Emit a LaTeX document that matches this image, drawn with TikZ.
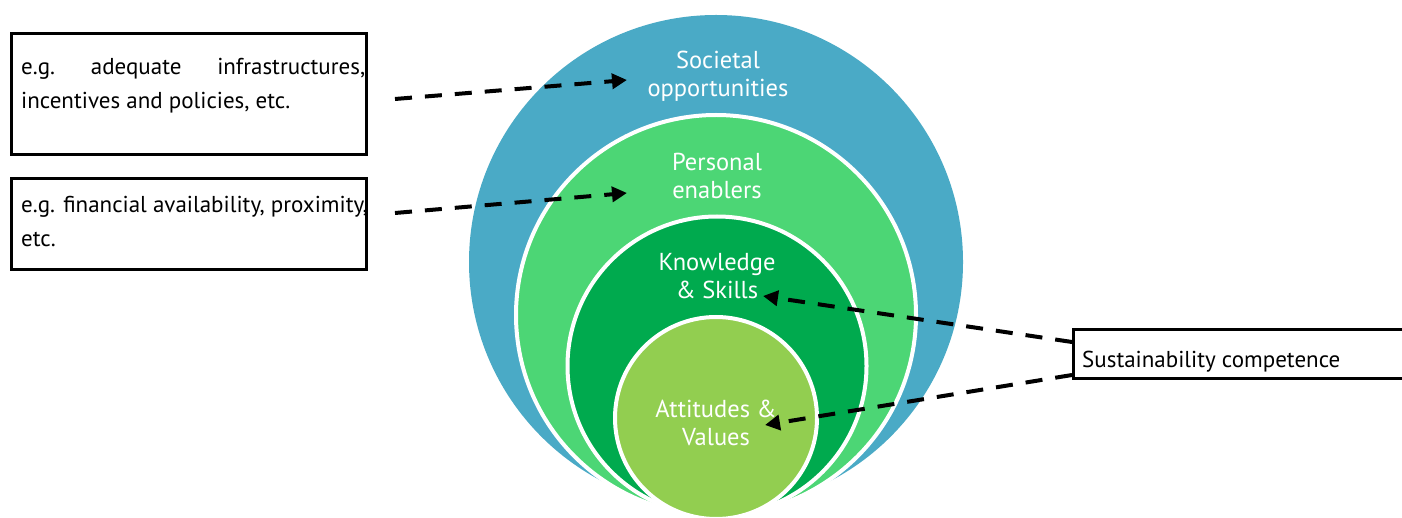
\documentclass[tikz,border=0pt]{standalone}
\usepackage{fontspec}
\setmainfont{PT Sans}
\usetikzlibrary{arrows.meta}
\definecolor{cblue}{RGB}{74,170,198}
\definecolor{clight}{RGB}{76,214,117}
\definecolor{cdark}{RGB}{0,170,78}
\definecolor{cyg}{RGB}{146,206,80}
\begin{document}
\begin{tikzpicture}[x=1pt,y=-1pt,
  disc/.style={circle, inner sep=0pt, draw=white, line width=4pt},
  lab/.style={text=white, align=center, font=\fontsize{24.5}{28}\selectfont, inner sep=0pt},
  box/.style={draw=black, line width=3pt, inner sep=0pt, anchor=north west},
  btext/.style={anchor=north west, align=left, inner sep=0pt, font=\fontsize{23}{34}\selectfont},
  conn/.style={line width=4pt, dash pattern=on 17pt off 13pt, -{Triangle[length=15pt,width=15pt]}}]
\useasboundingbox (0,0) rectangle (1402,518);
\clip (0,0) rectangle (1402,518);
\fill[white] (0,0) rectangle (1402,518);
% nested circles
\node[disc, fill=cblue, draw=none, minimum size=494pt] (soc) at (716,262) {};
\node[disc, fill=clight, minimum size=400pt] (per) at (716,315) {};
\node[disc, fill=cdark, minimum size=299pt] (kno) at (717,366) {};
\node[disc, fill=cyg, minimum size=202pt] (att) at (716,418) {};
% circle labels
\node[lab] (tsoc) at (718,76) {Societal\\opportunities};
\node[lab] (tper) at (717,176) {Personal\\enablers};
\node[lab] (tkno) at (717,276) {Knowledge\\\& Skills};
\node[lab] (tatt) at (716,423) {Attitudes \&\\Values};
% left boxes
\node[box, minimum width=355pt, minimum height=121pt] (b1) at (10,32) {};
\node[btext] (t1) at (21,58) {\hbox to 344pt{e.g.\hfill adequate\hfill infrastructures,}\\incentives and policies, etc.};
\node[box, minimum width=355pt, minimum height=91pt] (b2) at (10,177) {};
\node[btext] (t2) at (21,196) {e.g. financial availability, proximity,\\etc.};
% right box
\node[box, minimum width=360pt, minimum height=49pt] (b3) at (1072,328) {};
\node[btext] (t3) at (1082,351) {Sustainability competence};
% connectors
\coordinate (s1) at (395,99);
\coordinate (e1) at (627,80);
\coordinate (s2) at (395,213);
\coordinate (e2) at (627,193);
\coordinate (s3) at (1072,342);
\coordinate (e3) at (763,296);
\coordinate (s4) at (1072,375);
\coordinate (e4) at (765,425);
\draw[conn] (s1) -- (e1);
\draw[conn] (s2) -- (e2);
\draw[conn] (s3) -- (e3);
\draw[conn] (s4) -- (e4);
\end{tikzpicture}
\end{document}
